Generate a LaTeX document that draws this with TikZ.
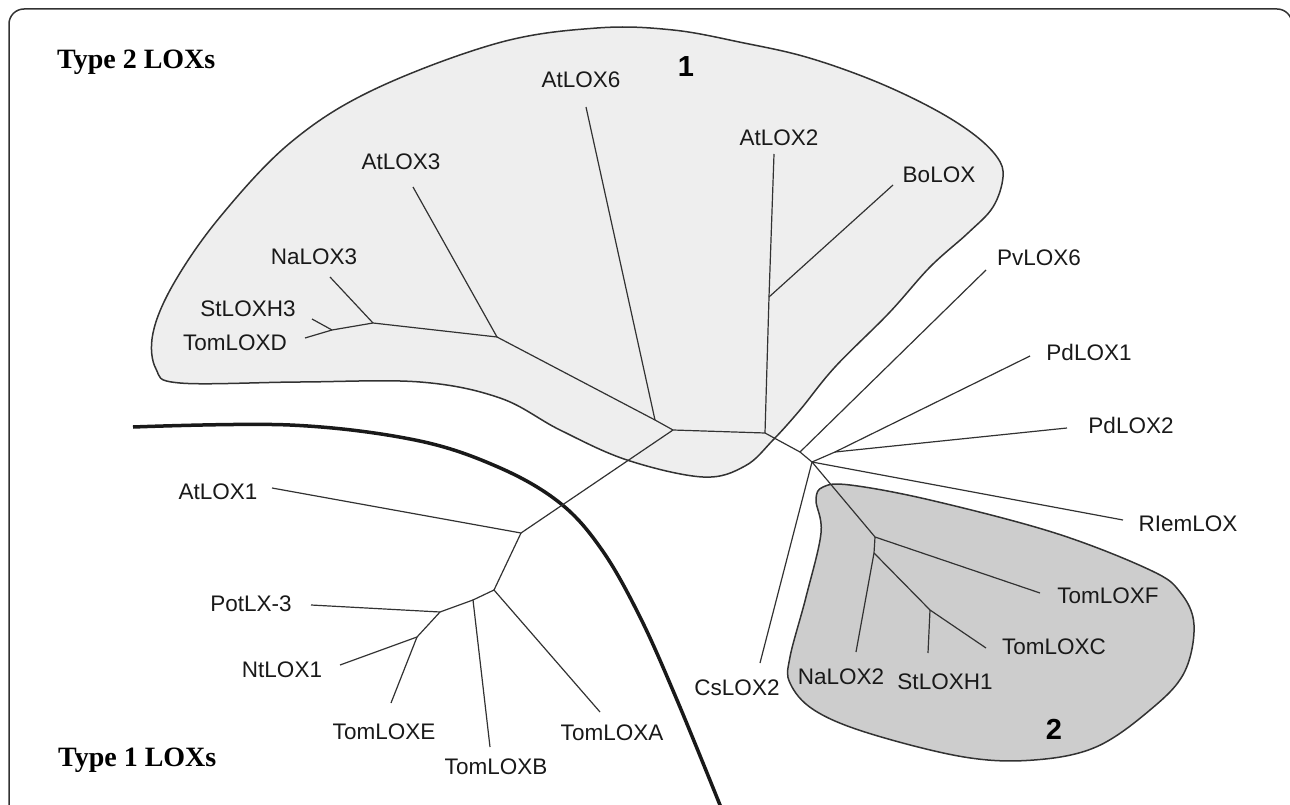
\documentclass[tikz,border=0pt]{standalone}
\usepackage{fontspec}
\setmainfont{Liberation Sans}
\newfontfamily\labfont{Liberation Sans}
\newfontfamily\typefont{Liberation Serif}
\definecolor{cladeone}{RGB}{238,238,238}
\definecolor{cladetwo}{RGB}{205,205,205}
\definecolor{inkgray}{RGB}{50,50,50}
\tikzset{
	branch/.style={line width=1.2pt, color=inkgray},
	blob/.style={line width=1.5pt, draw=inkgray},
	lox/.style={font=\labfont\fontsize{22.5}{26}\selectfont, inner sep=0pt, text=black!90},
	cladenum/.style={font=\labfont\bfseries\fontsize{29}{32}\selectfont, inner sep=0pt},
	loxtype/.style={font=\typefont\bfseries\fontsize{28}{32}\selectfont, inner sep=0pt, anchor=west},
}

\begin{document}
\begin{tikzpicture}[x=1pt, y=-1pt]
		%%%%% START %%%%%
		\useasboundingbox (0, 0) rectangle (1290, 805);
		
		\draw[line width=1.5pt, color=inkgray, rounded corners=15pt] (9, 9) rectangle (1292, 840);
		
		% clade 1
		\draw[blob, fill=cladeone] plot[smooth cycle, tension=0.6] coordinates {
			(597, 28) (673, 30) (744, 43) (806, 57) (872, 80) (930, 107) (972, 133) (997, 157)
			(1003, 177) (993, 207) (968, 233) (930, 267) (889, 313) (835, 367) (800, 410)
			(773, 440) (745, 466) (703, 477) (627, 460) (560, 430) (500, 398) (420, 382)
			(300, 382) (180, 383) (156, 369) (153, 333) (174, 283) (220, 217) (290, 143)
			(373, 90) (498, 43)};
		
		% clade 2
		\draw[blob, fill=cladetwo] plot[smooth cycle, tension=0.6] coordinates {
			(823, 487) (850, 485) (930, 500) (1055, 533) (1150, 570) (1180, 592) (1194, 625)
			(1184, 673) (1150, 710) (1096, 747) (1034, 760) (964, 757) (868, 733) (814, 710)
			(790, 683) (790, 657) (806, 597) (821, 533) (816, 500)};
		
		% divider
		\draw[line width=3.5pt, color=black!90] plot[smooth, tension=0.6] coordinates {
			(133, 427) (290, 425) (415, 440) (498, 467) (560, 503) (602, 550) (640, 617)
			(677, 700) (722, 810)};
		
		% inner nodes
		\coordinate (a1) at (332, 330);
		\coordinate (a2) at (373, 323);
		\coordinate (a3) at (497, 337);
		\coordinate (b1) at (655, 420);
		\coordinate (c1) at (673, 430);
		\coordinate (d1) at (765, 433);
		\coordinate (bo) at (769, 297);
		\coordinate (e1) at (800, 452);
		\coordinate (e2) at (812, 462);
		\coordinate (pd) at (835, 452);
		\coordinate (g) at (875, 537);
		\coordinate (h) at (874, 553);
		\coordinate (i) at (930, 610);
		\coordinate (j) at (521, 533);
		\coordinate (k) at (494, 590);
		\coordinate (m) at (473, 600);
		\coordinate (n) at (440, 612);
		\coordinate (o) at (417, 637);
		
		% leaf tips
		\coordinate (tTomLOXD) at (305, 338);
		\coordinate (tStLOXH3) at (312, 319);
		\coordinate (tNaLOX3) at (330, 277);
		\coordinate (tAtLOX3) at (413, 187);
		\coordinate (tAtLOX6) at (586, 107);
		\coordinate (tAtLOX2) at (774, 154);
		\coordinate (tBoLOX) at (893, 185);
		\coordinate (tPvLOX6) at (986, 270);
		\coordinate (tPdLOX1) at (1030, 356);
		\coordinate (tPdLOX2) at (1067, 428);
		\coordinate (tRIemLOX) at (1123, 520);
		\coordinate (tCsLOX2) at (760, 663);
		\coordinate (tTomLOXF) at (1040, 593);
		\coordinate (tNaLOX2) at (856, 652);
		\coordinate (tStLOXH1) at (928, 653);
		\coordinate (tTomLOXC) at (986, 648);
		\coordinate (tAtLOX1) at (272, 488);
		\coordinate (tTomLOXA) at (600, 712);
		\coordinate (tTomLOXB) at (490, 747);
		\coordinate (tPotLX3) at (311, 605);
		\coordinate (tNtLOX1) at (340, 665);
		\coordinate (tTomLOXE) at (391, 703);
		
		% branches
		\draw[branch] (tTomLOXD) -- (a1) -- (a2) -- (a3) -- (b1) -- (c1) -- (d1) -- (e1) -- (e2);
		\draw[branch] (tStLOXH3) -- (a1);
		\draw[branch] (tNaLOX3) -- (a2);
		\draw[branch] (tAtLOX3) -- (a3);
		\draw[branch] (tAtLOX6) -- (b1);
		\draw[branch] (tAtLOX2) -- (bo) -- (d1);
		\draw[branch] (tBoLOX) -- (bo);
		\draw[branch] (tPvLOX6) -- (e1);
		\draw[branch] (tPdLOX1) -- (pd) -- (e2);
		\draw[branch] (tPdLOX2) -- (pd);
		\draw[branch] (tRIemLOX) -- (e2);
		\draw[branch] (tCsLOX2) -- (e2);
		\draw[branch] (e2) -- (g) -- (tTomLOXF);
		\draw[branch] (g) -- (h) -- (tNaLOX2);
		\draw[branch] (h) -- (i) -- (tTomLOXC);
		\draw[branch] (i) -- (tStLOXH1);
		\draw[branch] (c1) -- (j) -- (tAtLOX1);
		\draw[branch] (j) -- (k) -- (tTomLOXA);
		\draw[branch] (k) -- (m) -- (tTomLOXB);
		\draw[branch] (m) -- (n) -- (tPotLX3);
		\draw[branch] (n) -- (o) -- (tNtLOX1);
		\draw[branch] (o) -- (tTomLOXE);
		
		% labels
		\node[lox] (AtLOX6) at (581, 80) {AtLOX6};
		\node[lox] (AtLOX3) at (401, 162) {AtLOX3};
		\node[lox] (NaLOX3) at (314, 257) {NaLOX3};
		\node[lox] (StLOXH3) at (248, 309) {StLOXH3};
		\node[lox] (TomLOXD) at (235, 343) {TomLOXD};
		\node[lox] (AtLOX2) at (779, 138) {AtLOX2};
		\node[lox] (BoLOX) at (939, 175) {BoLOX};
		\node[lox] (PvLOX6) at (1039, 258) {PvLOX6};
		\node[lox] (PdLOX1) at (1089, 352) {PdLOX1};
		\node[lox] (PdLOX2) at (1131, 425) {PdLOX2};
		\node[lox] (RIemLOX) at (1188, 524) {RIemLOX};
		\node[lox] (TomLOXF) at (1108, 596) {TomLOXF};
		\node[lox] (TomLOXC) at (1054, 647) {TomLOXC};
		\node[lox] (NaLOX2) at (841, 677) {NaLOX2};
		\node[lox] (StLOXH1) at (945, 682) {StLOXH1};
		\node[lox] (CsLOX2) at (737, 688) {CsLOX2};
		\node[lox] (AtLOX1) at (218, 492) {AtLOX1};
		\node[lox] (PotLX3) at (251, 604) {PotLX-3};
		\node[lox] (NtLOX1) at (282, 670) {NtLOX1};
		\node[lox] (TomLOXE) at (384, 732) {TomLOXE};
		\node[lox] (TomLOXB) at (496, 767) {TomLOXB};
		\node[lox] (TomLOXA) at (612, 733) {TomLOXA};
		
		\node[cladenum] (one) at (686, 67) {1};
		\node[cladenum] (two) at (1054, 729) {2};
		
		\node[loxtype] (typetwo) at (57, 62) {Type 2 LOXs};
		\node[loxtype] (typeone) at (58, 760) {Type 1 LOXs};
		
		%%%%% END %%%%%
	\end{tikzpicture}
\end{document}
